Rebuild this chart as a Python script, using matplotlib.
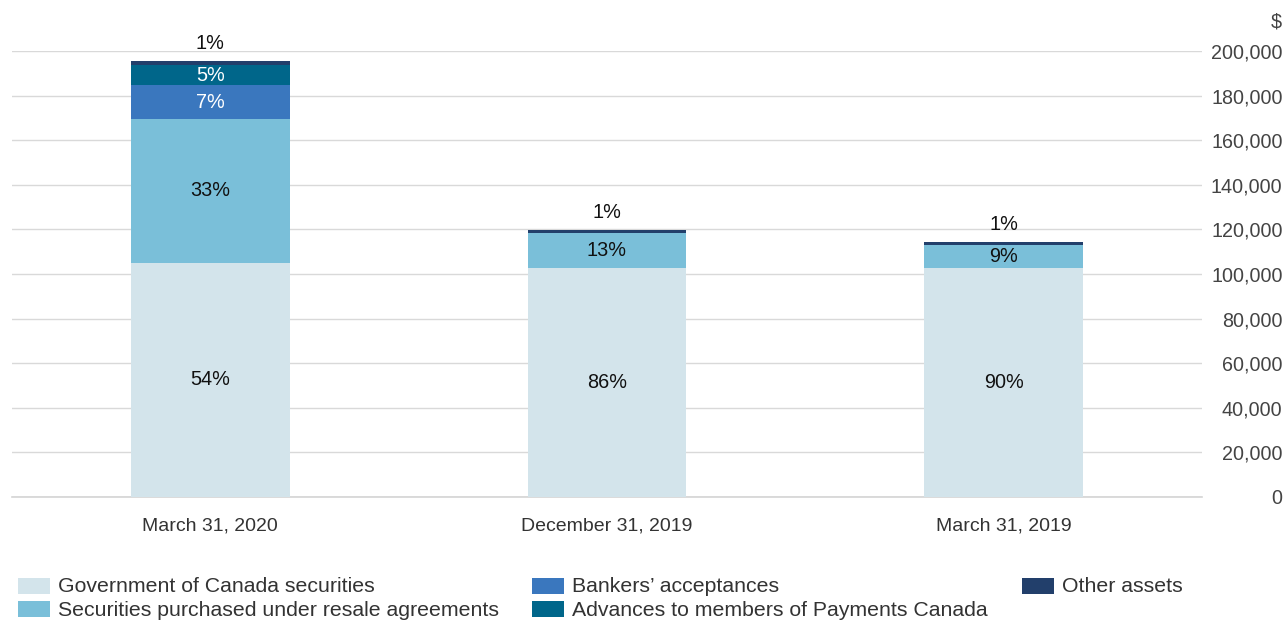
import matplotlib
matplotlib.use("Agg")
import matplotlib.pyplot as plt
from matplotlib.patches import Rectangle
from matplotlib.ticker import FuncFormatter

plt.rcParams['font.family'] = ['Liberation Sans', 'DejaVu Sans']

categories = ["March 31, 2020", "December 31, 2019", "March 31, 2019"]
series_names = [
    "Government of Canada securities",
    "Securities purchased under resale agreements",
    "Bankers\u2019 acceptances",
    "Advances to members of Payments Canada",
    "Other assets",
]
gov = [105000, 102700, 102700]
spra = [64500, 15700, 10300]
ba = [15200, 0, 0]
adv = [8900, 0, 0]
other = [1800, 1300, 1300]
pct_labels = [
    ["54%", "86%", "90%"],
    ["33%", "13%", "9%"],
    ["7%", "", ""],
    ["5%", "", ""],
    ["1%", "1%", "1%"],
]
colors = ["#d3e4eb", "#7abfd9", "#3a77be", "#00668a", "#223f6b"]
label_colors = ["#111111", "#111111", "white", "white", "#111111"]
yticks = [0, 20000, 40000, 60000, 80000, 100000, 120000, 140000, 160000, 180000, 200000]

W, H = 1286, 620
fig = plt.figure(figsize=(W / 100, H / 100), dpi=100)
ax = fig.add_axes([12 / W, 123 / H, 1190 / W, 446 / H])

series = [gov, spra, ba, adv, other]
x = list(range(len(categories)))
bottoms = [0.0] * len(categories)
for i, vals in enumerate(series):
    ax.bar(x, vals, width=0.4, bottom=bottoms, color=colors[i], zorder=3,
           label=series_names[i])
    for j, v in enumerate(vals):
        lab = pct_labels[i][j]
        if lab:
            if i == len(series) - 1:
                ax.annotate(lab, (x[j], bottoms[j] + v), xytext=(0, 12.5),
                            textcoords="offset points", ha="center", va="center",
                            fontsize=14.3, color="#111111", annotation_clip=False)
            else:
                ax.text(x[j], bottoms[j] + v / 2, lab, ha="center", va="center",
                        fontsize=14.3, color=label_colors[i], zorder=4)
    bottoms = [b + v for b, v in zip(bottoms, vals)]

ax.set_xlim(-0.5, 2.5)
ax.set_ylim(0, 200000)
ax.set_yticks(yticks)
ax.yaxis.tick_right()
ax.yaxis.set_major_formatter(FuncFormatter(lambda v, p: f"{int(v):,}"))
ax.tick_params(axis="y", length=0, pad=58, labelsize=14.2, labelcolor="#444444")
for t in ax.get_yticklabels():
    t.set_horizontalalignment("right")
ax.set_xticks(x)
ax.set_xticklabels(categories)
ax.tick_params(axis="x", length=0, pad=15, labelsize=14, labelcolor="#333333")
ax.grid(axis="y", color="#d9d9d9", linewidth=1, zorder=0)
ax.axhline(0, color="#d4d4d4", linewidth=1.2, zorder=2, clip_on=False)
ax.set_axisbelow(True)
for s in ax.spines.values():
    s.set_visible(False)

fig.text(1282 / W, 1 - 22 / H, "$", ha="right", va="center", fontsize=14.2, color="#444444")

# legend, laid out in three columns like the reference
legend_pos = [(18, 586), (18, 609), (532, 586), (532, 609), (1022, 586)]
for (px, py), name, c in zip(legend_pos, series_names, colors):
    fig.patches.append(Rectangle((px / W, 1 - (py + 8) / H), 32 / W, 16 / H,
                                 transform=fig.transFigure, facecolor=c,
                                 edgecolor="none"))
    fig.text((px + 40) / W, 1 - (py + 1) / H, name, ha="left", va="center",
             fontsize=15.3, color="#333333")

fig.savefig("out.png", dpi=100)
